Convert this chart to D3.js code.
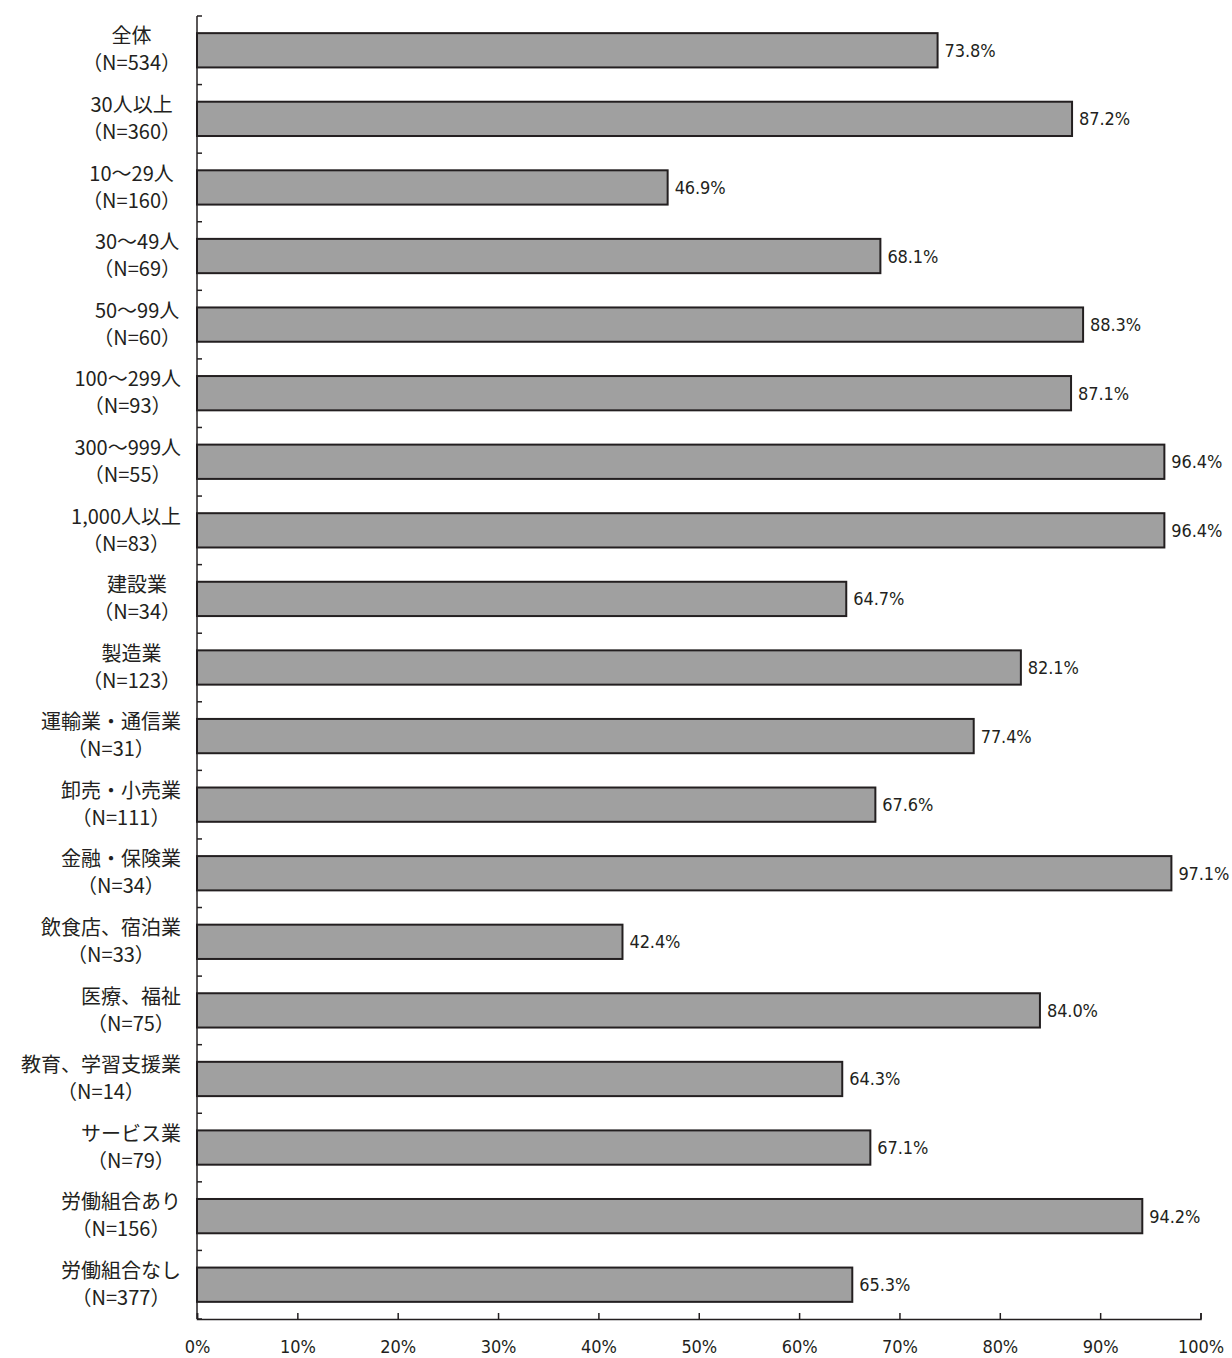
<!DOCTYPE html>
<html>
<head>
<meta charset="utf-8">
<script src="https://cdn.jsdelivr.net/npm/d3@7/dist/d3.min.js"></script>
<style>
  body { margin: 0; background: #fff; }
  .cat { font-family: "Noto Sans CJK JP", sans-serif; font-size: 20px; fill: #231f20; }
  .num { font-family: "Liberation Sans Narrow", "DejaVu Sans Condensed", sans-serif; font-size: 18px; fill: #231f20; letter-spacing: -0.1px; }
</style>
</head>
<body>
<div id="container"></div>
<script>
var width = 1232;
var height = 1358;

// categories (two lines each) and values in %
var labels = ["全体", "30人以上", "10～29人", "30～49人", "50～99人", "100～299人", "300～999人",
  "1,000人以上", "建設業", "製造業", "運輸業・通信業", "卸売・小売業", "金融・保険業",
  "飲食店、宿泊業", "医療、福祉", "教育、学習支援業", "サービス業", "労働組合あり", "労働組合なし"];
var counts = ["534", "360", "160", "69", "60", "93", "55", "83", "34", "123", "31", "111", "34",
  "33", "75", "14", "79", "156", "377"];
var values = [73.8, 87.2, 46.9, 68.1, 88.3, 87.1, 96.4, 96.4, 64.7, 82.1, 77.4, 67.6, 97.1,
  42.4, 84.0, 64.3, 67.1, 94.2, 65.3];
var xTicks = [0, 10, 20, 30, 40, 50, 60, 70, 80, 90, 100];

var svg = d3.select("div#container").append("svg")
  .attr("width", width).attr("height", height);

var x = d3.scaleLinear().domain([0, 100]).range([197, 1200.5]);
var y = d3.scaleBand().domain(d3.range(labels.length)).range([16, 1319])
  .paddingInner(0.5).paddingOuter(0.25);

// bars
svg.append("g").selectAll("rect")
  .data(values).enter().append("rect")
  .attr("x", x(0))
  .attr("y", (d, i) => y(i))
  .attr("width", d => x(d) - x(0))
  .attr("height", y.bandwidth())
  .attr("fill", "#a0a0a0")
  .attr("stroke", "#231f20")
  .attr("stroke-width", 2);

// value labels
svg.append("g").selectAll("text")
  .data(values).enter().append("text")
  .attr("class", "num")
  .attr("x", d => x(d) + 7)
  .attr("y", (d, i) => y(i) + y.bandwidth() / 2)
  .attr("dy", "0.36em")
  .text(d => d.toFixed(1) + "%");

// left axis with category-boundary ticks
var bounds = d3.range(labels.length + 1).map(i => 16 + i * (1319 - 16) / labels.length);
var axisG = svg.append("g").attr("stroke", "#231f20").attr("stroke-width", 1.5);
axisG.append("line").attr("x1", x(0)).attr("x2", x(0)).attr("y1", 16).attr("y2", 1319);
axisG.selectAll(".yt").data(bounds).enter().append("line")
  .attr("x1", x(0)).attr("x2", x(0) + 5).attr("y1", d => d).attr("y2", d => d);

// bottom axis
var xAxis = d3.axisBottom(x).tickValues(xTicks).tickSize(-6).tickPadding(21)
  .tickFormat(d => d + "%");
var gx = svg.append("g").attr("transform", "translate(0,1319)").call(xAxis);
gx.select(".domain").attr("stroke", "#231f20").attr("stroke-width", 1.5);
gx.selectAll(".tick line").attr("stroke", "#231f20").attr("stroke-width", 1.5);
gx.selectAll(".tick text").attr("class", "num").attr("fill", "#231f20");

// category labels, two lines centred on each other, block right-aligned
var catG = svg.append("g");
labels.forEach(function (lab, i) {
  var cy = y(i) + y.bandwidth() / 2;
  var t1 = catG.append("text").attr("class", "cat").attr("text-anchor", "middle")
    .attr("y", cy - 14).attr("dy", "0.36em").text(lab);
  var t2 = catG.append("text").attr("class", "cat").attr("text-anchor", "middle")
    .attr("y", cy + 13).attr("dy", "0.36em").text("（N=" + counts[i] + "）");
  var w = Math.max(t1.node().getComputedTextLength(), t2.node().getComputedTextLength());
  var cx = 181 - w / 2;
  t1.attr("x", cx);
  t2.attr("x", cx);
});
</script>
</body>
</html>
